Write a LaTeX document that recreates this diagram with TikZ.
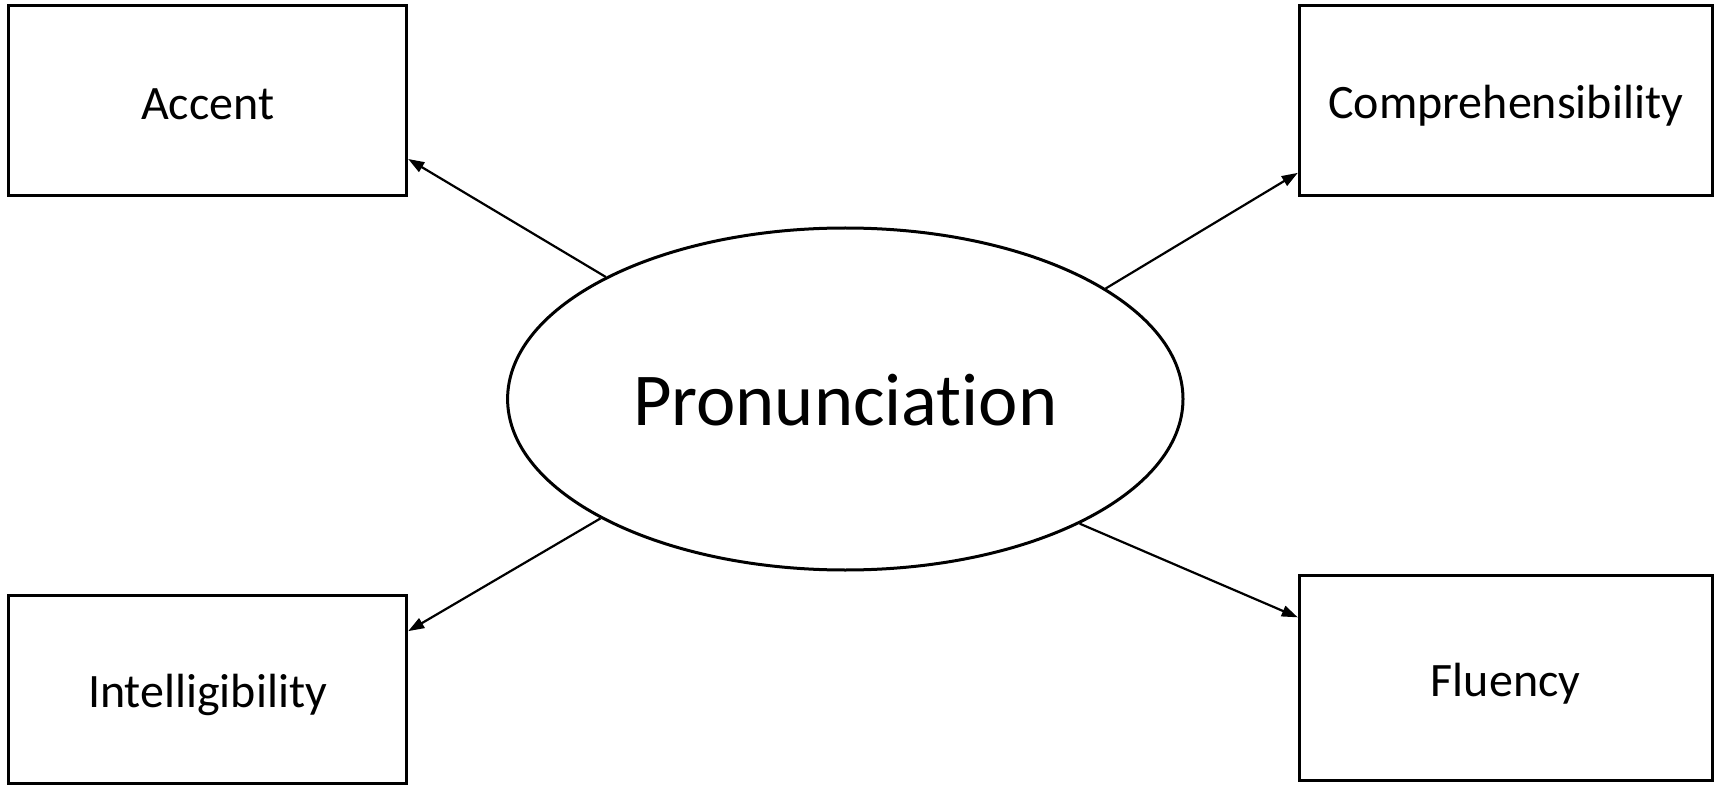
\documentclass[tikz,border=0pt]{standalone}
\usepackage{fontspec}
\setmainfont[Ligatures=NoCommon]{Carlito}
\usetikzlibrary{calc,shapes.geometric,arrows.meta}
\tikzset{
  boxnode/.style={draw, line width=1.5pt, inner sep=0pt},
  boxtext/.style={inner sep=0pt, font=\fontsize{24pt}{28pt}\selectfont},
  ellnode/.style={draw, ellipse, line width=1.5pt, inner sep=0pt, minimum width=337.7pt, minimum height=171pt},
  elltext/.style={inner sep=0pt, font=\fontsize{37.3pt}{44pt}\selectfont},
  conn/.style={line width=1.1pt, -{Triangle[length=8pt,width=5.5pt]}}
}
\begin{document}
\begin{tikzpicture}[x=0.5pt,y=-0.5pt]
\useasboundingbox (0,0) rectangle (1719,786);
\node[boxnode, minimum width=199.1pt, minimum height=95.15pt] (acc) at (207.6,100.85) {};
\node[boxnode, minimum width=206.35pt, minimum height=95.15pt] (comp) at (1505.65,100.85) {};
\node[boxnode, minimum width=199.1pt, minimum height=94.15pt] (intel) at (207.6,689.15) {};
\node[boxnode, minimum width=206.35pt, minimum height=102.85pt] (flu) at (1505.65,677.85) {};
\node[ellnode] (pron) at (845.3,399) {};
\node[boxtext] (acct) at ($(acc)+(0,3.3)$) {Accent};
\node[boxtext] (compt) at ($(comp)+(0,4.4)$) {Comprehensibility};
\node[boxtext] (intelt) at ($(intel)+(0,5.5)$) {Intelligibility};
\node[boxtext] (flut) at ($(flu)+(0,5.5)$) {Fluency};
\node[elltext] (pront) at ($(pron)+(0,1.5)$) {Pronunciation};
\coordinate (accin) at ($(acc.east)+(0,58.15)$);
\coordinate (compin) at ($(comp.west)+(0,72)$);
\coordinate (intelin) at ($(intel.east)+(0,-58)$);
\coordinate (fluin) at ($(flu.west)+(0,-60.5)$);
\draw[conn] (pron.153.4) -- (accin);
\draw[conn] (pron.23.2) -- (compin);
\draw[conn] (pron.206.25) -- (intelin);
\draw[conn] (pron.332.5) -- (fluin);
\end{tikzpicture}
\end{document}
